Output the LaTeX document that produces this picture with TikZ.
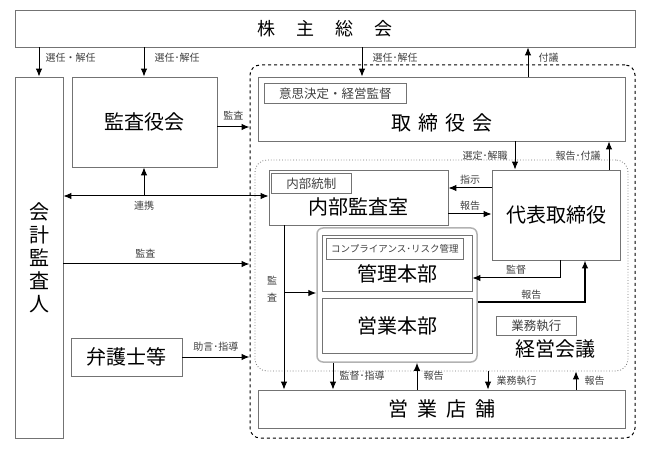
\documentclass[tikz,border=0pt]{standalone}
\usepackage{fontspec}
\setmainfont{Noto Sans CJK JP}
\usetikzlibrary{arrows.meta}

\tikzset{
	box/.style={draw=black!55, line width=0.8pt, inner sep=0pt},
	main/.style={font=\fontsize{20}{23}\selectfont},
	tag/.style={draw=black!55, line width=0.8pt, inner sep=0pt, minimum height=20, anchor=north west, text=black!75, font=\fontsize{12.5}{14}\selectfont},
	lbl/.style={text=black!75, font=\fontsize{10}{12}\selectfont, inner sep=1pt},
	arr/.style={-{Latex[length=8pt,width=6.5pt]}, line width=1pt},
	darr/.style={{Latex[length=8pt,width=6.5pt]}-{Latex[length=8pt,width=6.5pt]}, line width=1pt},
}

\begin{document}
\begin{tikzpicture}[x=1pt,y=-1pt]
				\useasboundingbox (0,0) rectangle (651,449);
				\node[box, draw=black, dashed, line width=1pt, rounded corners=10pt, minimum width=385, minimum height=373] (grp) at (442.5,251.5) {};
				\node[box, dotted, rounded corners=12pt, minimum width=373, minimum height=211] (mgmt) at (441.5,265.5) {};
				\node[box, draw=black!30, line width=1.5pt, rounded corners=6pt, minimum width=160, minimum height=134] (hq) at (397,295) {};

				\node[box, minimum width=620, minimum height=37, font=\fontsize{18}{20}\selectfont] (gm) at (325,28.5) {株\hspace{21pt}主\hspace{21pt}総\hspace{21pt}会};
				\node[box, main, minimum width=48, minimum height=361, align=center] (acct) at (39,257.5) {会\\計\\監\\査\\人};
				\node[box, main, minimum width=145, minimum height=90] (kansa) at (144.5,122) {監査役会};
				\node[box, main, minimum width=111, minimum height=38] (lawyer) at (126.5,357) {弁護士等};

				\node[box, minimum width=367, minimum height=64] (board) at (441.5,109) {};
				\node[main] (boardname) at (442,123) {取\hspace{7pt}締\hspace{7pt}役\hspace{7pt}会};
				\node[tag, minimum width=142] (boardtag) at (264,83) {意思決定・経営監督};

				\node[box, minimum width=179, minimum height=55] (audit) at (358.5,197.5) {};
				\node[main] (auditname) at (358,207) {内部監査室};
				\node[tag, minimum width=80] (audittag) at (271,173) {内部統制};

				\node[box, main, minimum width=128, minimum height=90] (ceo) at (556,215) {代表取締役};

				\node[box, minimum width=150, minimum height=56] (admin) at (397,263) {};
				\node[main] (adminname) at (397,274) {管理本部};
				\node[tag, minimum width=137, minimum height=21, font=\fontsize{9.5}{11}\selectfont] (admintag) at (326,238) {コンプライアンス･リスク管理};
				\node[box, main, minimum width=150, minimum height=55] (sales) at (397,325.5) {営業本部};

				\node[tag, minimum width=80, minimum height=19] (mtgtag) at (496,316) {業務執行};
				\node[main] (mtgname) at (555,349) {経営会議};

				\node[box, main, minimum width=367, minimum height=38] (shop) at (441.5,409) {営\hspace{9pt}業\hspace{9pt}店\hspace{9pt}舗};

				\draw[arr] (39,0 |- gm.south) -- (39,0 |- acct.north) node[lbl, pos=0.35, right=5pt] {選任・解任};
				\draw[arr] (144,0 |- gm.south) -- (144,0 |- kansa.north) node[lbl, pos=0.35, right=9pt] {選任･解任};
				\draw[arr] (362,0 |- gm.south) -- (362,0 |- board.north) node[lbl, pos=0.35, right=9pt] {選任･解任};
				\draw[arr] (528,0 |- board.north) -- (528,0 |- gm.south) node[lbl, pos=0.65, right=9pt] {付議};

				\draw[arr] (kansa.east |- 0,127) -- (grp.west |- 0,127) node[lbl, midway, above=5pt] {監査};
				\draw[darr] (acct.east |- 0,196) -- (audit.west |- 0,196);
				\coordinate (link) at (144,196);
				\draw[arr] (link) -- (link |- kansa.south);
				\node[lbl, below=4pt] (linklbl) at (link) {連携};
				\draw[arr] (acct.east |- 0,264) -- (grp.west |- 0,264) node[lbl, pos=0.44, above=4pt] {監査};
				\draw[arr] (lawyer.east |- 0,357) -- (grp.west |- 0,357) node[lbl, midway, above=4pt] {助言･指導};

				\draw[arr] (515,0 |- board.south) -- (515,0 |- ceo.north) node[lbl, midway, left=6pt] {選定･解職};
				\draw[arr] (609,0 |- ceo.north) -- (609,0 |- board.south) node[lbl, midway, left=7pt] {報告･付議};
				\draw[arr] (ceo.west |- 0,188) -- (audit.east |- 0,188) node[lbl, midway, above=2pt] {指示};
				\draw[arr] (audit.east |- 0,214) -- (ceo.west |- 0,214) node[lbl, midway, above=2pt] {報告};
				\draw[arr] (560,0 |- ceo.south) |- (admin.east |- 0,278) node[lbl, pos=0.75, above=2pt] {監督};
				\draw[arr, line width=1.4pt] (hq.east |- 0,302) -| (585,0 |- ceo.south) node[lbl, pos=0.25, above=1pt] {報告};

				\draw[arr] (284,0 |- audit.south) -- (284,0 |- shop.north);
				\coordinate (split) at (284,293);
				\draw[arr] (split) -- (split -| hq.west);
				\node[lbl, align=center, font=\fontsize{10}{17}\selectfont] (auditlbl) at (272,289) {監\\査};

				\draw[arr] (333,0 |- hq.south) -- (333,0 |- shop.north) node[lbl, midway, right=5pt] {監督･指導};
				\draw[arr] (417,0 |- shop.north) -- (417,0 |- hq.south) node[lbl, midway, right=5pt] {報告};
				\draw[arr] (488,0 |- mgmt.south) -- (488,0 |- shop.north) node[lbl, midway, right=7pt] {業務執行};
				\draw[arr] (576,0 |- shop.north) -- (576,0 |- mgmt.south) node[lbl, midway, right=7pt] {報告};
\end{tikzpicture}
\end{document}
